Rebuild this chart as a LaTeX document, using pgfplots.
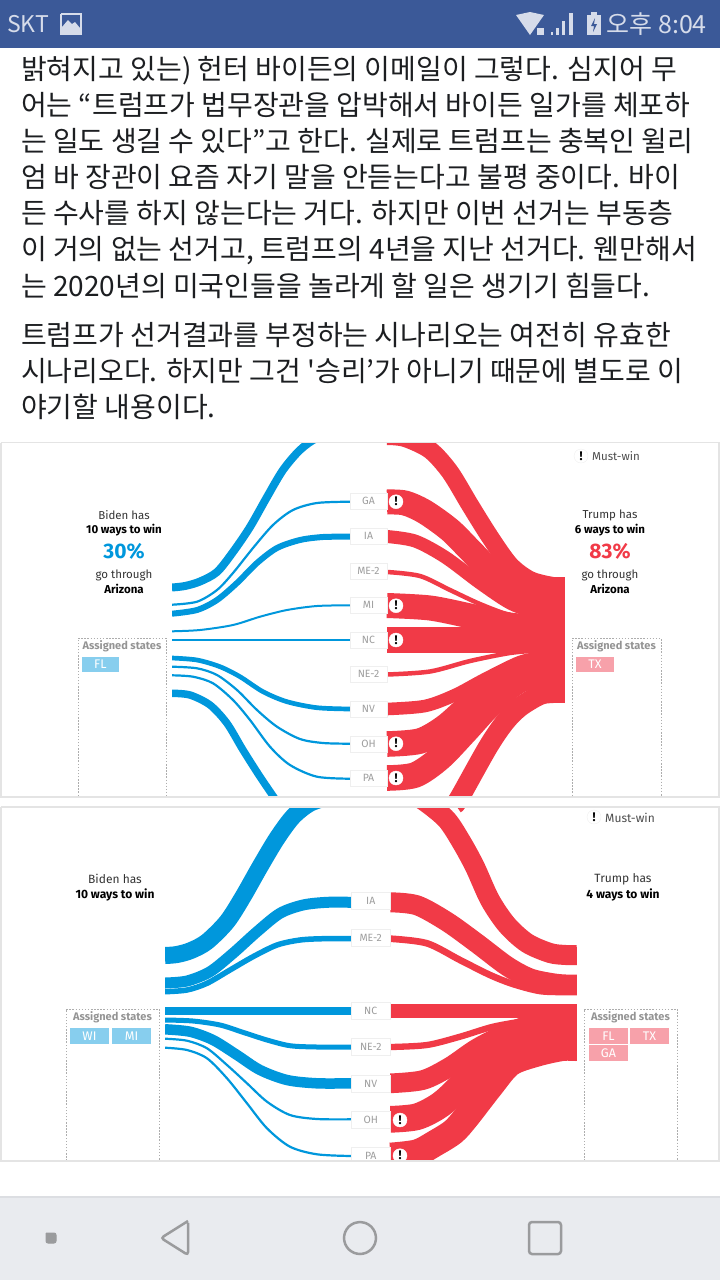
\documentclass[border=0pt]{standalone}
\usepackage{fontspec}
\usepackage{pgfplots}
\pgfplotsset{compat=1.18}
\setmainfont{Noto Sans CJK KR}
\newfontfamily\econ{Fira Sans}
\newfontfamily\kostraight{Noto Sans CJK KR}

\definecolor{fbblue}{HTML}{3B5998}
\definecolor{sbtext}{HTML}{D6DCEA}
\definecolor{bidenb}{HTML}{0097DC}
\definecolor{trumpr}{HTML}{F13A47}
\definecolor{chipb}{HTML}{87CEEE}
\definecolor{chipr}{HTML}{F7A1AA}
\definecolor{frame}{HTML}{E4E4E4}
\definecolor{boxl}{HTML}{EFEFEF}
\definecolor{navbg}{HTML}{E9EBEF}
\definecolor{navline}{HTML}{DCDEE2}
\definecolor{navic}{HTML}{9A9B9D}
\definecolor{bodytx}{HTML}{1C1E21}

% ribbon: colour, width, centre line
\newcommand{\flow}[3]{\addplot[smooth,color=#1,line width=#2pt,line cap=butt] coordinates {#3};}
% filled rectangle: colour, x0, y0, x1, y1
\newcommand{\rect}[5]{\addplot[fill=#1,draw=none] coordinates {(#2,#3) (#4,#3) (#4,#5) (#2,#5)};}
% state label box
\newcommand{\statebox}[5]{%
  \addplot[fill=white,draw=boxl,line width=1pt] coordinates {(#1,#3) (#2,#3) (#2,#4) (#1,#4) (#1,#3)};
  \node[text=black!38,inner sep=0pt,font=\econ\fontsize{10.5}{12}\selectfont] at ({(#1+#2)/2},{(#3+#4)/2}) {#5};}
% must win marks
\newcommand{\must}[2]{%
  \addplot[only marks,color=white,mark=*,mark size=7pt,mark options={fill=white,draw=white}] coordinates {(#1,#2)};
  \node[text=black,inner sep=0pt,font=\econ\bfseries\fontsize{12.5}{12}\selectfont] at (#1,#2) {!};}
% assigned states frame, open at the bottom
\newcommand{\assigned}[5]{%
  \addplot[color=black!32,line width=1pt,dash pattern=on 1.5pt off 1.6pt] coordinates {(#1,#4) (#1,#3) (#2,#3) (#2,#4)};
  \node[text=black!42,inner sep=0pt,font=\econ\bfseries\fontsize{11}{12}\selectfont] at ({(#1+#2)/2},#3+8) {#5};}
\newcommand{\chip}[6]{\rect{#1}{#2}{#3}{#4}{#5}
  \node[text=white,inner sep=0pt,font=\econ\fontsize{12.5}{12}\selectfont] at ({(#2+#4)/2},{(#3+#5)/2}) {#6};}
\newcommand{\lab}[5]{\node[text=#1,inner sep=0pt,font=\econ#4] at (#2,#3) {#5};}
\newcommand{\bodyline}[2]{\node[anchor=base west,inner sep=0pt,text=bodytx,font=\fontsize{28}{30}\selectfont] at (21,#1) {#2};}

\begin{document}
\begin{tikzpicture}
\begin{axis}[
    scale only axis,
    width=720pt,
    height=1280pt,
    xmin=0, xmax=720,
    ymin=0, ymax=1280,
    y dir=reverse,
    axis lines=none,
    clip=true,
    clip marker paths=true
]

% ---------- lower panel, flows
\flow{bidenb}{17}{(165,955.5) (177,954.5) (191,950.5) (207,941.7) (227,921.7) (243,896.7) (260,866.7) (277,838.3) (293,816.7) (310,803.3) (330,796.7)}
\flow{bidenb}{11}{(165,983) (187,981) (210,971.7) (233,953.3) (257,931.7) (280,913.3) (303,905) (327,902.3) (351,902.3)}
\flow{bidenb}{5.5}{(165,991.7) (187,990) (207,983.3) (230,970) (253,956.7) (277,945) (300,940) (323,938.7) (351,938.7)}
\flow{bidenb}{8.3}{(165,1010.8) (351,1010.8)}
\flow{bidenb}{5}{(165,1020) (193,1021) (220,1025) (243,1032.3) (267,1040) (290,1045.7) (317,1047) (351,1047)}
\flow{bidenb}{10.5}{(165,1029.3) (190,1031.7) (213,1040) (237,1055) (260,1070) (287,1080) (317,1083.3) (351,1083.3)}
\flow{bidenb}{2.2}{(165,1038.7) (187,1040.7) (207,1048.3) (227,1065) (247,1083.3) (267,1101.7) (290,1115) (317,1119) (351,1119.3)}
\flow{bidenb}{2.2}{(165,1047.7) (187,1050) (207,1058.3) (227,1078.3) (247,1103.3) (267,1128.3) (290,1146.7) (317,1154.3) (351,1156)}
\rect{white}{160}{940}{165}{1060}

\flow{trumpr}{20}{(403,787) (427,803) (447,820) (462,843) (475,867) (490,900) (507,925) (527,943) (550,953) (566,955) (577,955)}
\flow{trumpr}{20}{(390.5,902.3) (417,905.3) (447,921.7) (477,943.3) (507,966) (530,978.3) (553,983.3) (566,984.5) (577,984.5)}
\flow{trumpr}{6.7}{(390.5,938.7) (427,943.3) (460,960) (490,975) (513,984) (540,991) (566,992) (577,992)}
\flow{trumpr}{13.7}{(390.5,1010.8) (577,1010.8)}
\flow{trumpr}{6.3}{(390.5,1047) (427,1045) (460,1036.7) (493,1026.7) (527,1020.7) (553,1018) (577,1017)}
\flow{trumpr}{19.7}{(390.5,1083.3) (423,1080) (450,1066.7) (477,1048.3) (507,1033.3) (537,1023.3) (577,1021.7)}
\flow{trumpr}{26.7}{(390.5,1119.3) (417,1116.7) (440,1105) (460,1086.7) (483,1060) (510,1040) (540,1030) (577,1026.7)}
\flow{trumpr}{26.7}{(390.5,1156) (417,1152.7) (435,1143.3) (453.3,1131.7) (466.7,1116.7) (490,1086.7) (510,1063.3) (536.7,1053.3) (562,1047.7) (577,1047.7)}
\rect{trumpr}{568}{1004}{577}{1061}
\rect{white}{577}{940}{583}{1070}
\rect{white}{0}{780}{720}{807}

\statebox{351}{390.5}{892}{909}{IA}
\statebox{351}{390.5}{929}{946}{ME-2}
\statebox{351}{390.5}{1002}{1019}{NC}
\statebox{351}{390.5}{1038}{1055}{NE-2}
\statebox{351}{390.5}{1075}{1092}{NV}
\statebox{351}{390.5}{1111}{1128}{OH}
\statebox{351}{390.5}{1147}{1164}{PA}
\must{400}{1120}
\must{400}{1155.7}
\assigned{66}{159}{1009}{1170}{Assigned states}
\assigned{584}{677}{1009}{1170}{Assigned states}
\rect{white}{0}{1161}{720}{1198}

% ---------- upper panel, flows
\flow{bidenb}{8}{(172,587.5) (185,586) (200,581.5) (217,572) (233,552) (250,527) (267,497) (283,470) (300,450) (317,438) (340,432)}
\flow{bidenb}{2.2}{(172,604.7) (197,601.7) (217,590) (233,573) (253,548) (273,525) (293,510) (317,503) (350,501.7)}
\flow{bidenb}{6}{(172,613.7) (197,610) (217,600) (237,583) (257,563) (277,548) (300,540) (323,537) (350,536.7)}
\flow{bidenb}{2}{(172,631.3) (200,630) (233,625) (260,616.7) (287,610) (317,606) (350,605.3)}
\flow{bidenb}{2}{(172,640) (350,640)}
\flow{bidenb}{4.7}{(172,658) (197,660) (220,666.7) (240,676.7) (263,691.7) (287,701.7) (317,707.7) (350,709)}
\flow{bidenb}{2.2}{(172,666.7) (197,668.3) (217,675) (237,690) (257,710) (277,726.7) (300,739) (323,743) (350,743.7)}
\flow{bidenb}{2.2}{(172,675.3) (193,676.7) (213,683.3) (233,700) (250,720) (270,746.7) (290,765) (317,776.7) (350,778.7)}
\flow{bidenb}{7.5}{(172,693.3) (190,695) (210,705) (227,723.3) (243,750) (260,776.7) (277,801.7)}
\rect{white}{167}{575}{172}{702}

\flow{trumpr}{18}{(387,436) (405,438) (430,450) (450,472) (470,505) (490,537) (510,565) (530,580) (553,586) (565,586)}
\flow{trumpr}{25}{(387,502) (405,503) (425,512) (450,530) (470,550) (495,575) (525,595) (565,600)}
\flow{trumpr}{13}{(387,536.5) (415,541) (445,557) (480,583) (510,603) (535,612) (565,616)}
\flow{trumpr}{4.5}{(387,572) (420,576) (450,590) (480,604) (510,615) (541,619) (565,620)}
\flow{trumpr}{25}{(387,605.5) (430,608) (470,616) (510,625) (565,630)}
\flow{trumpr}{26}{(387,640) (565,640)}
\flow{trumpr}{4.5}{(387,674.5) (430,671.5) (470,661) (510,653) (543,650) (565,648)}
\flow{trumpr}{12.6}{(387,709) (425,706) (455,695) (485,679) (520,662) (545,657) (565,655)}
\flow{trumpr}{25.6}{(387,744) (420,741) (445,727) (470,705) (495,685) (530,670) (565,665)}
\flow{trumpr}{25.6}{(387,778) (415,775) (440,758) (465,732) (490,705) (520,680) (565,670)}
\flow{trumpr}{20}{(455,804) (460,797) (488,747) (505,722) (520,707) (540,695) (553,693) (565,693)}
\rect{trumpr}{556}{577}{565}{703}
\rect{white}{565}{570}{571}{710}

% ---------- masks, frames
\rect{white}{0}{48}{720}{443}
\rect{white}{0}{797}{720}{807}
\addplot[color=frame,line width=1.6pt] coordinates {(0.8,442.5) (719,442.5) (719,797) (0.8,797) (0.8,442.5)};
\addplot[color=frame,line width=1.6pt] coordinates {(0.8,806.8) (719,806.8) (719,1161) (0.8,1161) (0.8,806.8)};

% ---------- upper panel, boxes
\statebox{350}{387}{493}{509}{GA}
\statebox{350}{387}{528}{544}{IA}
\statebox{350}{387}{563}{579}{ME-2}
\statebox{350}{387}{597}{613}{MI}
\statebox{350}{387}{632}{648}{NC}
\statebox{350}{387}{666}{682}{NE-2}
\statebox{350}{387}{701}{717}{NV}
\statebox{350}{387}{736}{752}{OH}
\statebox{350}{387}{770}{786}{PA}
\must{396}{501.7}
\must{396}{605.7}
\must{396}{640}
\must{396}{743.7}
\must{396}{778}
\assigned{78}{166}{638}{796}{Assigned states}
\assigned{572}{661}{638}{796}{Assigned states}
\chip{chipb}{81.7}{657}{119}{672}{FL}
\chip{chipr}{576}{657}{614}{672}{TX}

% legend and headings, upper
\addplot[only marks,color=boxl,mark=*,mark size=7pt,mark options={fill=white,draw=boxl}] coordinates {(581,456)};
\node[text=black,inner sep=0pt,font=\econ\bfseries\fontsize{12.5}{12}\selectfont] at (581,456) {!};
\lab{black!70}{616}{456}{\fontsize{11.5}{13}\selectfont}{Must-win}
\lab{black!80}{124}{515}{\fontsize{11.5}{13}\selectfont}{Biden has}
\lab{black}{124}{530}{\bfseries\fontsize{11.5}{13}\selectfont}{10 ways to win}
\lab{bidenb}{124}{551}{\bfseries\fontsize{21}{24}\selectfont}{30\%}
\lab{black!80}{124}{575}{\fontsize{11.5}{13}\selectfont}{go through}
\lab{black}{124}{589}{\bfseries\fontsize{11.5}{13}\selectfont}{Arizona}
\lab{black!80}{610}{515}{\fontsize{11.5}{13}\selectfont}{Trump has}
\lab{black}{610}{530}{\bfseries\fontsize{11.5}{13}\selectfont}{6 ways to win}
\lab{trumpr}{610}{551}{\bfseries\fontsize{21}{24}\selectfont}{83\%}
\lab{black!80}{610}{575}{\fontsize{11.5}{13}\selectfont}{go through}
\lab{black}{610}{589}{\bfseries\fontsize{11.5}{13}\selectfont}{Arizona}

% lower panel chips, headings
\chip{chipb}{70}{1028}{109}{1044}{WI}
\chip{chipb}{112}{1028}{151}{1044}{MI}
\chip{chipr}{589}{1028}{628}{1044}{FL}
\chip{chipr}{630}{1028}{669}{1044}{TX}
\chip{chipr}{589}{1045}{628}{1061}{GA}
\addplot[only marks,color=boxl,mark=*,mark size=7pt,mark options={fill=white,draw=boxl}] coordinates {(594,817)};
\node[text=black,inner sep=0pt,font=\econ\bfseries\fontsize{12.5}{12}\selectfont] at (594,817) {!};
\lab{black!70}{630}{817.5}{\fontsize{12}{13}\selectfont}{Must-win}
\lab{black!80}{115}{879}{\fontsize{12}{13}\selectfont}{Biden has}
\lab{black}{115}{895}{\bfseries\fontsize{12}{13}\selectfont}{10 ways to win}
\lab{black!80}{623}{879}{\fontsize{12}{13}\selectfont}{Trump has}
\lab{black}{623}{895}{\bfseries\fontsize{12}{13}\selectfont}{4 ways to win}

% ---------- article text
\bodyline{79}{밝혀지고 있는) 헌터 바이든의 이메일이 그렇다. 심지어 무}
\bodyline{115}{어는 “트럼프가 법무장관을 압박해서 바이든 일가를 체포하}
\bodyline{151}{는 일도 생길 수 있다”고 한다. 실제로 트럼프는 충복인 윌리}
\bodyline{187}{엄 바 장관이 요즘 자기 말을 안듣는다고 불평 중이다. 바이}
\bodyline{223}{든 수사를 하지 않는다는 거다. 하지만 이번 선거는 부동층}
\bodyline{259}{이 거의 없는 선거고, 트럼프의 4년을 지난 선거다. 웬만해서}
\bodyline{296}{는 2020년의 미국인들을 놀라게 할 일은 생기기 힘들다.}
\bodyline{345}{트럼프가 선거결과를 부정하는 시나리오는 여전히 유효한}
\bodyline{381}{시나리오다. 하지만 그건 {\kostraight '}승리’가 아니기 때문에 별도로 이}
\bodyline{417}{야기할 내용이다.}

% ---------- status bar
\rect{fbblue}{0}{0}{720}{48}
\node[anchor=west,inner sep=0pt,text=sbtext,font=\fontsize{23}{26}\selectfont] at (7,24) {SKT};
\addplot[color=sbtext,line width=2pt] coordinates {(61,14) (81,14) (81,34) (61,34) (61,14)};
\addplot[fill=sbtext,draw=none] coordinates {(62,33) (62,27) (68,20) (72,24) (75,22) (80,28) (80,33)};
\addplot[fill=sbtext,draw=none] coordinates {(516,15) (530,12) (544,15) (530,35)};
\rect{sbtext}{537}{28}{544}{35}
\rect{sbtext}{551}{32}{553}{35}
\rect{sbtext}{556}{28}{559}{35}
\rect{sbtext}{562}{21}{565}{35}
\rect{sbtext}{569}{13}{573}{35}
\rect{sbtext}{587}{15}{601}{35}
\rect{sbtext}{591}{12}{597}{15}
\addplot[fill=fbblue,draw=none] coordinates {(595,18) (591,26) (594,26) (593,32) (597,24) (594,24)};
\node[anchor=east,inner sep=0pt,text=sbtext,font=\fontsize{25}{26}\selectfont] at (707,24) {오후 8:04};

% ---------- nav bar
\rect{navbg}{0}{1197}{720}{1280}
\rect{navline}{0}{1196}{720}{1198}
\addplot[fill=navic,draw=navic,line width=1pt,rounded corners=2pt] coordinates {(46,1233) (56,1233) (56,1243) (46,1243) (46,1233)};
\addplot[color=navic,line width=2.5pt,rounded corners=3pt] coordinates {(188,1221) (161,1238) (188,1255) (188,1221) (188,1235)};
\addplot[color=navic,line width=2.5pt,smooth] coordinates {(360,1222) (366,1223.2) (371.3,1226.7) (374.8,1232) (376,1238) (374.8,1244) (371.3,1249.3) (366,1252.8) (360,1254) (354,1252.8) (348.7,1249.3) (345.2,1244) (344,1238) (345.2,1232) (348.7,1226.7) (354,1223.2) (360,1222)};
\addplot[color=navic,line width=2.5pt,rounded corners=3pt] coordinates {(540,1222) (561,1222) (561,1254) (529,1254) (529,1222) (545,1222)};

\end{axis}
\end{tikzpicture}
\end{document}
